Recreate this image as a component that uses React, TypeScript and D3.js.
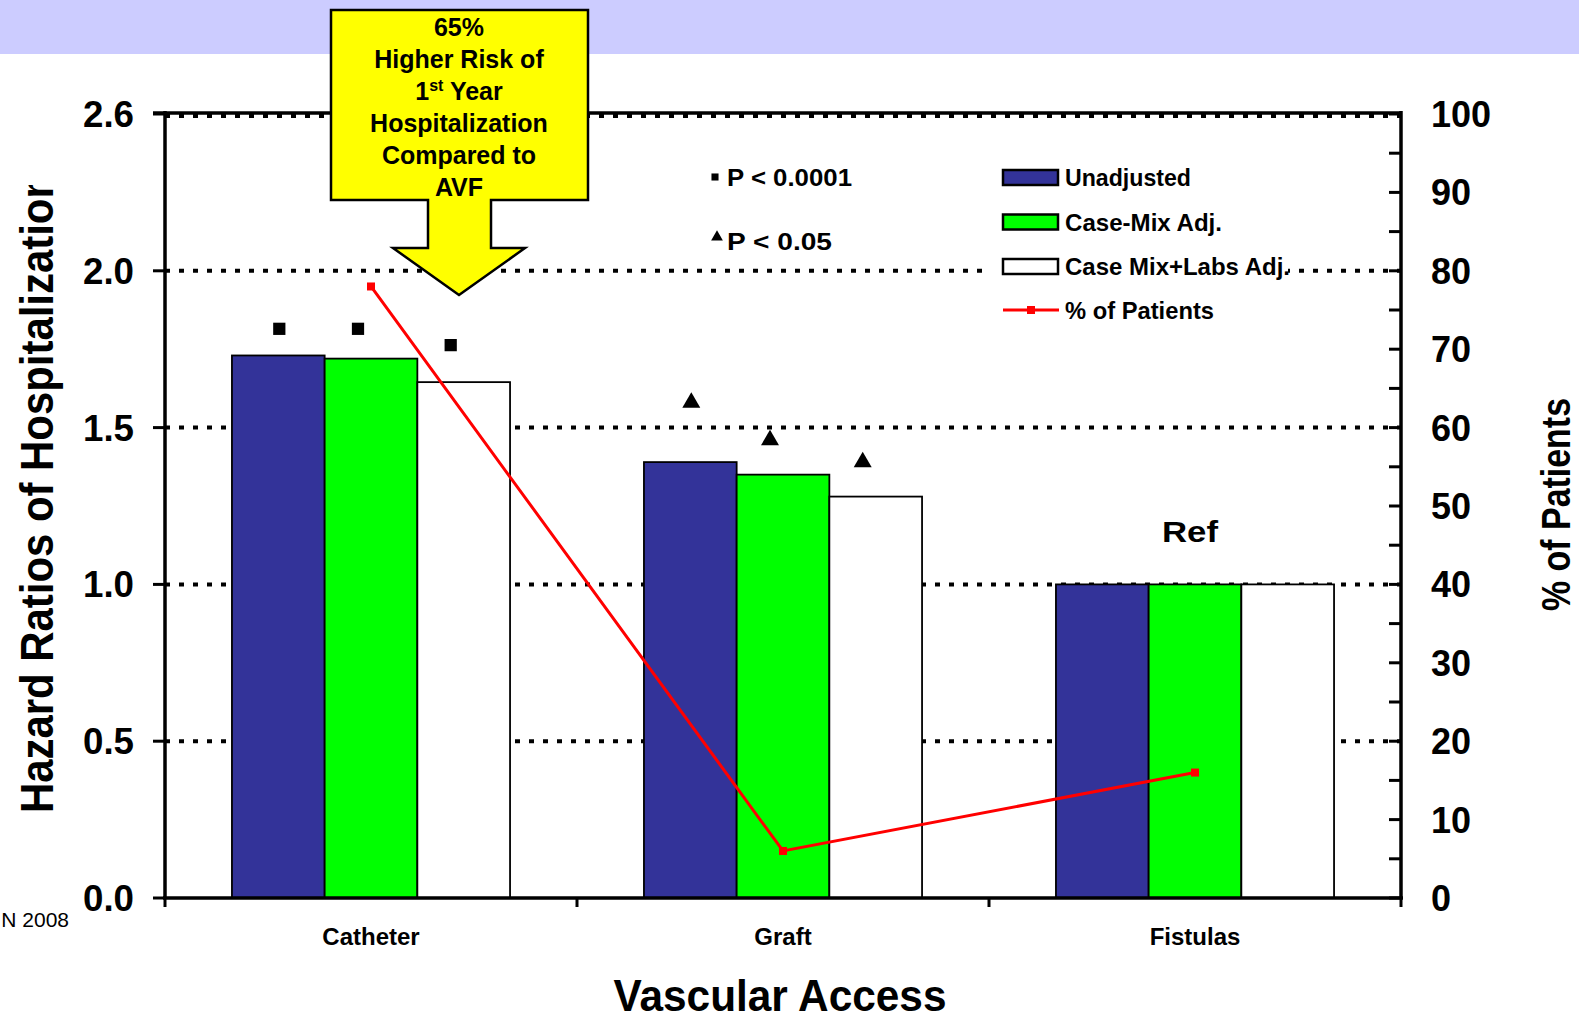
import React from "react";
import * as d3 from "d3";

const categories = ["Catheter", "Graft", "Fistulas"];
const seriesNames = ["Unadjusted", "Case-Mix Adj.", "Case Mix+Labs Adj."];
const unadjusted = [1.73, 1.39, 1.0];
const caseMixAdj = [1.72, 1.35, 1.0];
const caseMixLabsAdj = [1.645, 1.28, 1.0];
const pctPatients = [78, 6, 16];
const hrTickValues = [0, 0.5, 1.0, 1.5, 2.0, 2.5];
const hrTickLabels = ["0.0", "0.5", "1.0", "1.5", "2.0", "2.6"];
const pctTickValues = [0, 10, 20, 30, 40, 50, 60, 70, 80, 90, 100];
const pctMinorTicks = [5, 15, 25, 35, 45, 55, 65, 75, 85, 95];
const sigKinds = ["square", "triangle", ""];
const sigHeights = [
  [1.815, 1.815, 1.763],
  [1.58, 1.46, 1.39],
  [],
];
const annotationLines = ["65%", "Higher Risk of", "1st Year", "Hospitalization", "Compared to", "AVF"];

const W = 1579;
const H = 1019;
const X0 = 165;
const X1 = 1401;
const Y0 = 898;
const Y1 = 114;
const FONT = "'Liberation Sans', Arial, sans-serif";
const colors = ["#333399", "#00FF00", "#FFFFFF"];

export default function App() {
  const series = [unadjusted, caseMixAdj, caseMixLabsAdj];
  const yHR = d3.scaleLinear().domain([0, 2.5]).range([Y0, Y1]);
  const yPct = d3.scaleLinear().domain([0, 100]).range([Y0, Y1]);
  const xBand = d3
    .scaleBand<string>()
    .domain(categories)
    .range([X0, X1])
    .paddingInner(0.325)
    .paddingOuter(0.1625);
  const xInner = d3.scaleBand<string>().domain(seriesNames).range([0, xBand.bandwidth()]);
  const step = xBand.step();
  const cx = (c: string) => (xBand(c) as number) + xBand.bandwidth() / 2;

  const linePath = d3
    .line<number>()
    .x((_, i) => cx(categories[i]))
    .y((d) => yPct(d))(pctPatients);

  const sq = d3.symbol().type(d3.symbolSquare).size(150)();
  const tri = d3.symbol().type(d3.symbolTriangle).size(140)();
  const sqSmall = d3.symbol().type(d3.symbolSquare).size(50)();
  const triSmall = d3.symbol().type(d3.symbolTriangle).size(60)();

  const grid = [0.5, 1.0, 1.5, 2.0];
  const boundaries = d3.range(categories.length + 1).map((i) => X0 + i * step);

  const legendRows = [177, 221.5, 266, 310];
  const legendWidths = [126, 157, 225, 149];

  return (
    <svg
      width={W}
      height={H}
      style={{ position: "absolute", left: 0, top: 0, background: "#fff" }}
      fontFamily={FONT}
    >
      <defs>
        <clipPath id="ytitleclip">
          <rect x={0} y={185} width={120} height={800} />
        </clipPath>
      </defs>
      <rect x={0} y={0} width={W} height={H} fill="#fff" />
      <rect x={0} y={0} width={W} height={54} fill="#CCCCFF" />

      {/* grid lines */}
      {grid.map((g) => (
        <line
          key={g}
          x1={X0}
          x2={X1}
          y1={yHR(g)}
          y2={yHR(g)}
          stroke="#000"
          strokeWidth={4}
          strokeDasharray="5,9"
        />
      ))}
      <line x1={X0} x2={X1} y1={yHR(2.5) + 2} y2={yHR(2.5) + 2} stroke="#000" strokeWidth={4} strokeDasharray="5,9" />
      <line x1={153} x2={X1} y1={yHR(2.5) - 1} y2={yHR(2.5) - 1} stroke="#000" strokeWidth={3.5} />

      {/* bars */}
      {categories.map((c, ci) =>
        seriesNames.map((s, si) => (
          <rect
            key={c + s}
            x={(xBand(c) as number) + (xInner(s) as number)}
            y={yHR(series[si][ci])}
            width={xInner.bandwidth()}
            height={Y0 - yHR(series[si][ci])}
            fill={colors[si]}
            stroke="#000"
            strokeWidth={1.8}
          />
        ))
      )}

      {/* significance markers */}
      {categories.map((c, ci) =>
        sigHeights[ci].map((h, si) => {
          const x = (xBand(c) as number) + (xInner(seriesNames[si]) as number) + xInner.bandwidth() / 2 + (si > 0 ? -13 : 1);
          return (
            <path
              key={c + si}
              d={sigKinds[ci] === "square" ? sq : tri}
              transform={`translate(${x},${yHR(h)})`}
              fill="#000"
            />
          );
        })
      )}

      {/* Ref label */}
      <text x={1190} y={542} fontSize={30} fontWeight="bold" textAnchor="middle" textLength={56} lengthAdjust="spacingAndGlyphs">
        Ref
      </text>

      {/* % of patients line */}
      <path d={linePath as string} fill="none" stroke="#FF0000" strokeWidth={3} />
      {pctPatients.map((p, i) => (
        <rect key={i} x={cx(categories[i]) - 4} y={yPct(p) - 4} width={8} height={8} fill="#FF0000" />
      ))}

      {/* axes */}
      <line x1={X0} x2={X0} y1={Y1 - 3} y2={Y0 + 1} stroke="#000" strokeWidth={3.5} />
      <line x1={X1} x2={X1} y1={Y1 - 3} y2={Y0 + 1} stroke="#000" strokeWidth={3.5} />
      <line x1={X0 - 2} x2={X1 + 2} y1={Y0} y2={Y0} stroke="#000" strokeWidth={3.5} />
      {hrTickValues.map((t, i) => (
        <g key={t}>
          <line x1={153} x2={X0} y1={yHR(t)} y2={yHR(t)} stroke="#000" strokeWidth={3} />
          <text
            x={134}
            y={yHR(t)}
            dy="0.36em"
            textAnchor="end"
            fontSize={36}
            fontWeight="bold"
            textLength={51}
            lengthAdjust="spacingAndGlyphs"
          >
            {hrTickLabels[i]}
          </text>
        </g>
      ))}
      {pctTickValues.map((t) => (
        <g key={t}>
          <line x1={X1 - 12} x2={X1} y1={yPct(t)} y2={yPct(t)} stroke="#000" strokeWidth={3} />
          <text x={1431} y={yPct(t)} dy="0.36em" textAnchor="start" fontSize={36} fontWeight="bold">
            {t}
          </text>
        </g>
      ))}
      {pctMinorTicks.map((t) => (
        <line key={t} x1={X1 - 12} x2={X1} y1={yPct(t)} y2={yPct(t)} stroke="#000" strokeWidth={3} />
      ))}
      {boundaries.map((b, i) => (
        <line key={i} x1={b} x2={b} y1={Y0} y2={Y0 + 9} stroke="#000" strokeWidth={3} />
      ))}

      {/* category labels */}
      {categories.map((c) => (
        <text key={c} x={cx(c)} y={945} textAnchor="middle" fontSize={24} fontWeight="bold">
          {c}
        </text>
      ))}

      {/* axis titles */}
      <text
        x={780}
        y={1011}
        textAnchor="middle"
        fontSize={44}
        fontWeight="bold"
        textLength={333}
        lengthAdjust="spacingAndGlyphs"
      >
        Vascular Access
      </text>
      <g clipPath="url(#ytitleclip)">
        <text
          transform="translate(53,813) rotate(-90)"
          fontSize={46}
          fontWeight="bold"
          textLength={640}
          lengthAdjust="spacingAndGlyphs"
        >
          Hazard Ratios of Hospitalization
        </text>
      </g>
      <text
        transform="translate(1570,611) rotate(-90)"
        fontSize={40}
        fontWeight="bold"
        textLength={213}
        lengthAdjust="spacingAndGlyphs"
      >
        % of Patients
      </text>

      <text x={69} y={927} textAnchor="end" fontSize={21}>
        N 2008
      </text>

      {/* p-value notes */}
      <path d={sqSmall} transform="translate(715,177)" fill="#000" />
      <text x={727} y={186} fontSize={24} fontWeight="bold" textLength={125} lengthAdjust="spacingAndGlyphs">
        P &lt; 0.0001
      </text>
      <path d={triSmall} transform="translate(717,237)" fill="#000" />
      <text x={727} y={250} fontSize={24} fontWeight="bold" textLength={105} lengthAdjust="spacingAndGlyphs">
        P &lt; 0.05
      </text>

      {/* legend */}
      <rect x={990} y={158} width={298} height={170} fill="#fff" />
      {seriesNames.map((s, i) => (
        <g key={s}>
          <rect x={1003} y={legendRows[i] - 7} width={55} height={15} fill={colors[i]} stroke="#000" strokeWidth={2.5} />
          <text
            x={1065}
            y={legendRows[i] + 9}
            fontSize={24}
            fontWeight="bold"
            textLength={legendWidths[i]}
            lengthAdjust="spacingAndGlyphs"
          >
            {s}
          </text>
        </g>
      ))}
      <line x1={1003} x2={1059} y1={legendRows[3]} y2={legendRows[3]} stroke="#FF0000" strokeWidth={3} />
      <rect x={1027} y={legendRows[3] - 4} width={8} height={8} fill="#FF0000" />
      <text
        x={1065}
        y={legendRows[3] + 9}
        fontSize={24}
        fontWeight="bold"
        textLength={legendWidths[3]}
        lengthAdjust="spacingAndGlyphs"
      >
        % of Patients
      </text>

      {/* annotation callout */}
      <path
        d="M331,10 L588,10 L588,200 L491,200 L491,248 L525,248 L459,295 L393,248 L428,248 L428,200 L331,200 Z"
        fill="#FFFF00"
        stroke="#000"
        strokeWidth={2.5}
        strokeLinejoin="miter"
      />
      {annotationLines.map((l, i) => (
        <text key={i} x={459} y={36 + i * 32} textAnchor="middle" fontSize={25} fontWeight="bold">
          {l === "1st Year" ? (
            <>
              1<tspan fontSize={16} dy={-9}>st</tspan>
              <tspan dy={9}> Year</tspan>
            </>
          ) : (
            l
          )}
        </text>
      ))}
    </svg>
  );
}
